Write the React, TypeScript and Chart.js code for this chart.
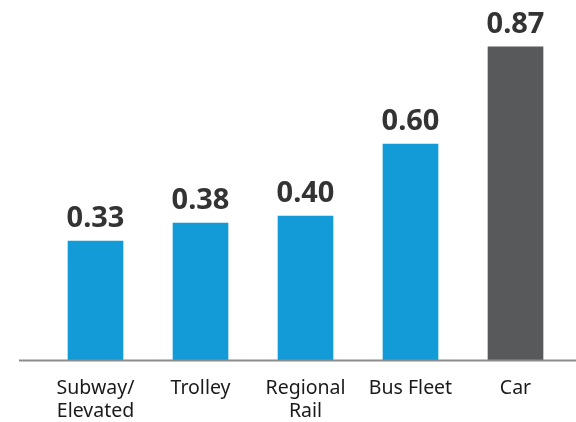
import React, { useEffect, useRef } from "react";
import { Chart, registerables } from "chart.js";

Chart.register(...registerables);

const categories: (string | string[])[] = [
  ["Subway/", "Elevated"],
  "Trolley",
  ["Regional", "Rail"],
  "Bus Fleet",
  "Car",
];
const values: number[] = [0.33, 0.38, 0.4, 0.6, 0.87];
const barColors: string[] = ["#139bd8", "#139bd8", "#139bd8", "#139bd8", "#58595b"];

const FONT = "'Noto Sans', 'Open Sans', sans-serif";

const valueLabelPlugin = {
  id: "valueLabels",
  afterDatasetsDraw(chart: any) {
    const ctx = chart.ctx;
    const meta = chart.getDatasetMeta(0);
    ctx.save();
    ctx.font = `bold 29px ${FONT}`;
    ctx.fillStyle = "#333333";
    ctx.textAlign = "center";
    ctx.textBaseline = "alphabetic";
    meta.data.forEach((bar: any, i: number) => {
      ctx.fillText(values[i].toFixed(2), bar.x, bar.y - 14);
    });
    ctx.restore();
  },
};

const axisLinePlugin = {
  id: "axisLine",
  afterDatasetsDraw(chart: any) {
    const ctx = chart.ctx;
    const y = chart.scales.y.getPixelForValue(0);
    ctx.save();
    ctx.strokeStyle = "#8c8c8c";
    ctx.lineWidth = 2;
    ctx.beginPath();
    ctx.moveTo(19, y + 0.5);
    ctx.lineTo(chart.width, y + 0.5);
    ctx.stroke();
    ctx.restore();
  },
};

export default function App() {
  const ref = useRef<HTMLCanvasElement | null>(null);
  useEffect(() => {
    if (!ref.current) return;
    const chart = new Chart(ref.current, {
      type: "bar",
      data: {
        labels: categories,
        datasets: [
          {
            data: values,
            backgroundColor: barColors,
            borderWidth: 0,
            barThickness: 55,
          },
        ],
      },
      options: {
        animation: false,
        responsive: false,
        maintainAspectRatio: false,
        layout: { padding: { left: 43, right: 8, top: 0, bottom: 0 } },
        plugins: { legend: { display: false }, tooltip: { enabled: false } },
        scales: {
          x: {
            grid: { display: false, drawTicks: false },
            border: { display: false },
            afterFit: (scale: any) => {
              scale.height = 62;
            },
            ticks: {
              padding: 17,
              color: "#1a1a1a",
              font: { family: FONT, size: 19.5, lineHeight: 1.18 },
              maxRotation: 0,
              autoSkip: false,
            },
          },
          y: {
            display: false,
            min: 0,
            max: 1,
          },
        },
      },
      plugins: [valueLabelPlugin, axisLinePlugin],
    });
    return () => chart.destroy();
  }, []);
  return (
    <div style={{ position: "fixed", left: 0, top: 0, width: 576, height: 422, background: "#fff" }}>
      <canvas ref={ref} width={576} height={422} style={{ width: 576, height: 422 }} />
    </div>
  );
}
